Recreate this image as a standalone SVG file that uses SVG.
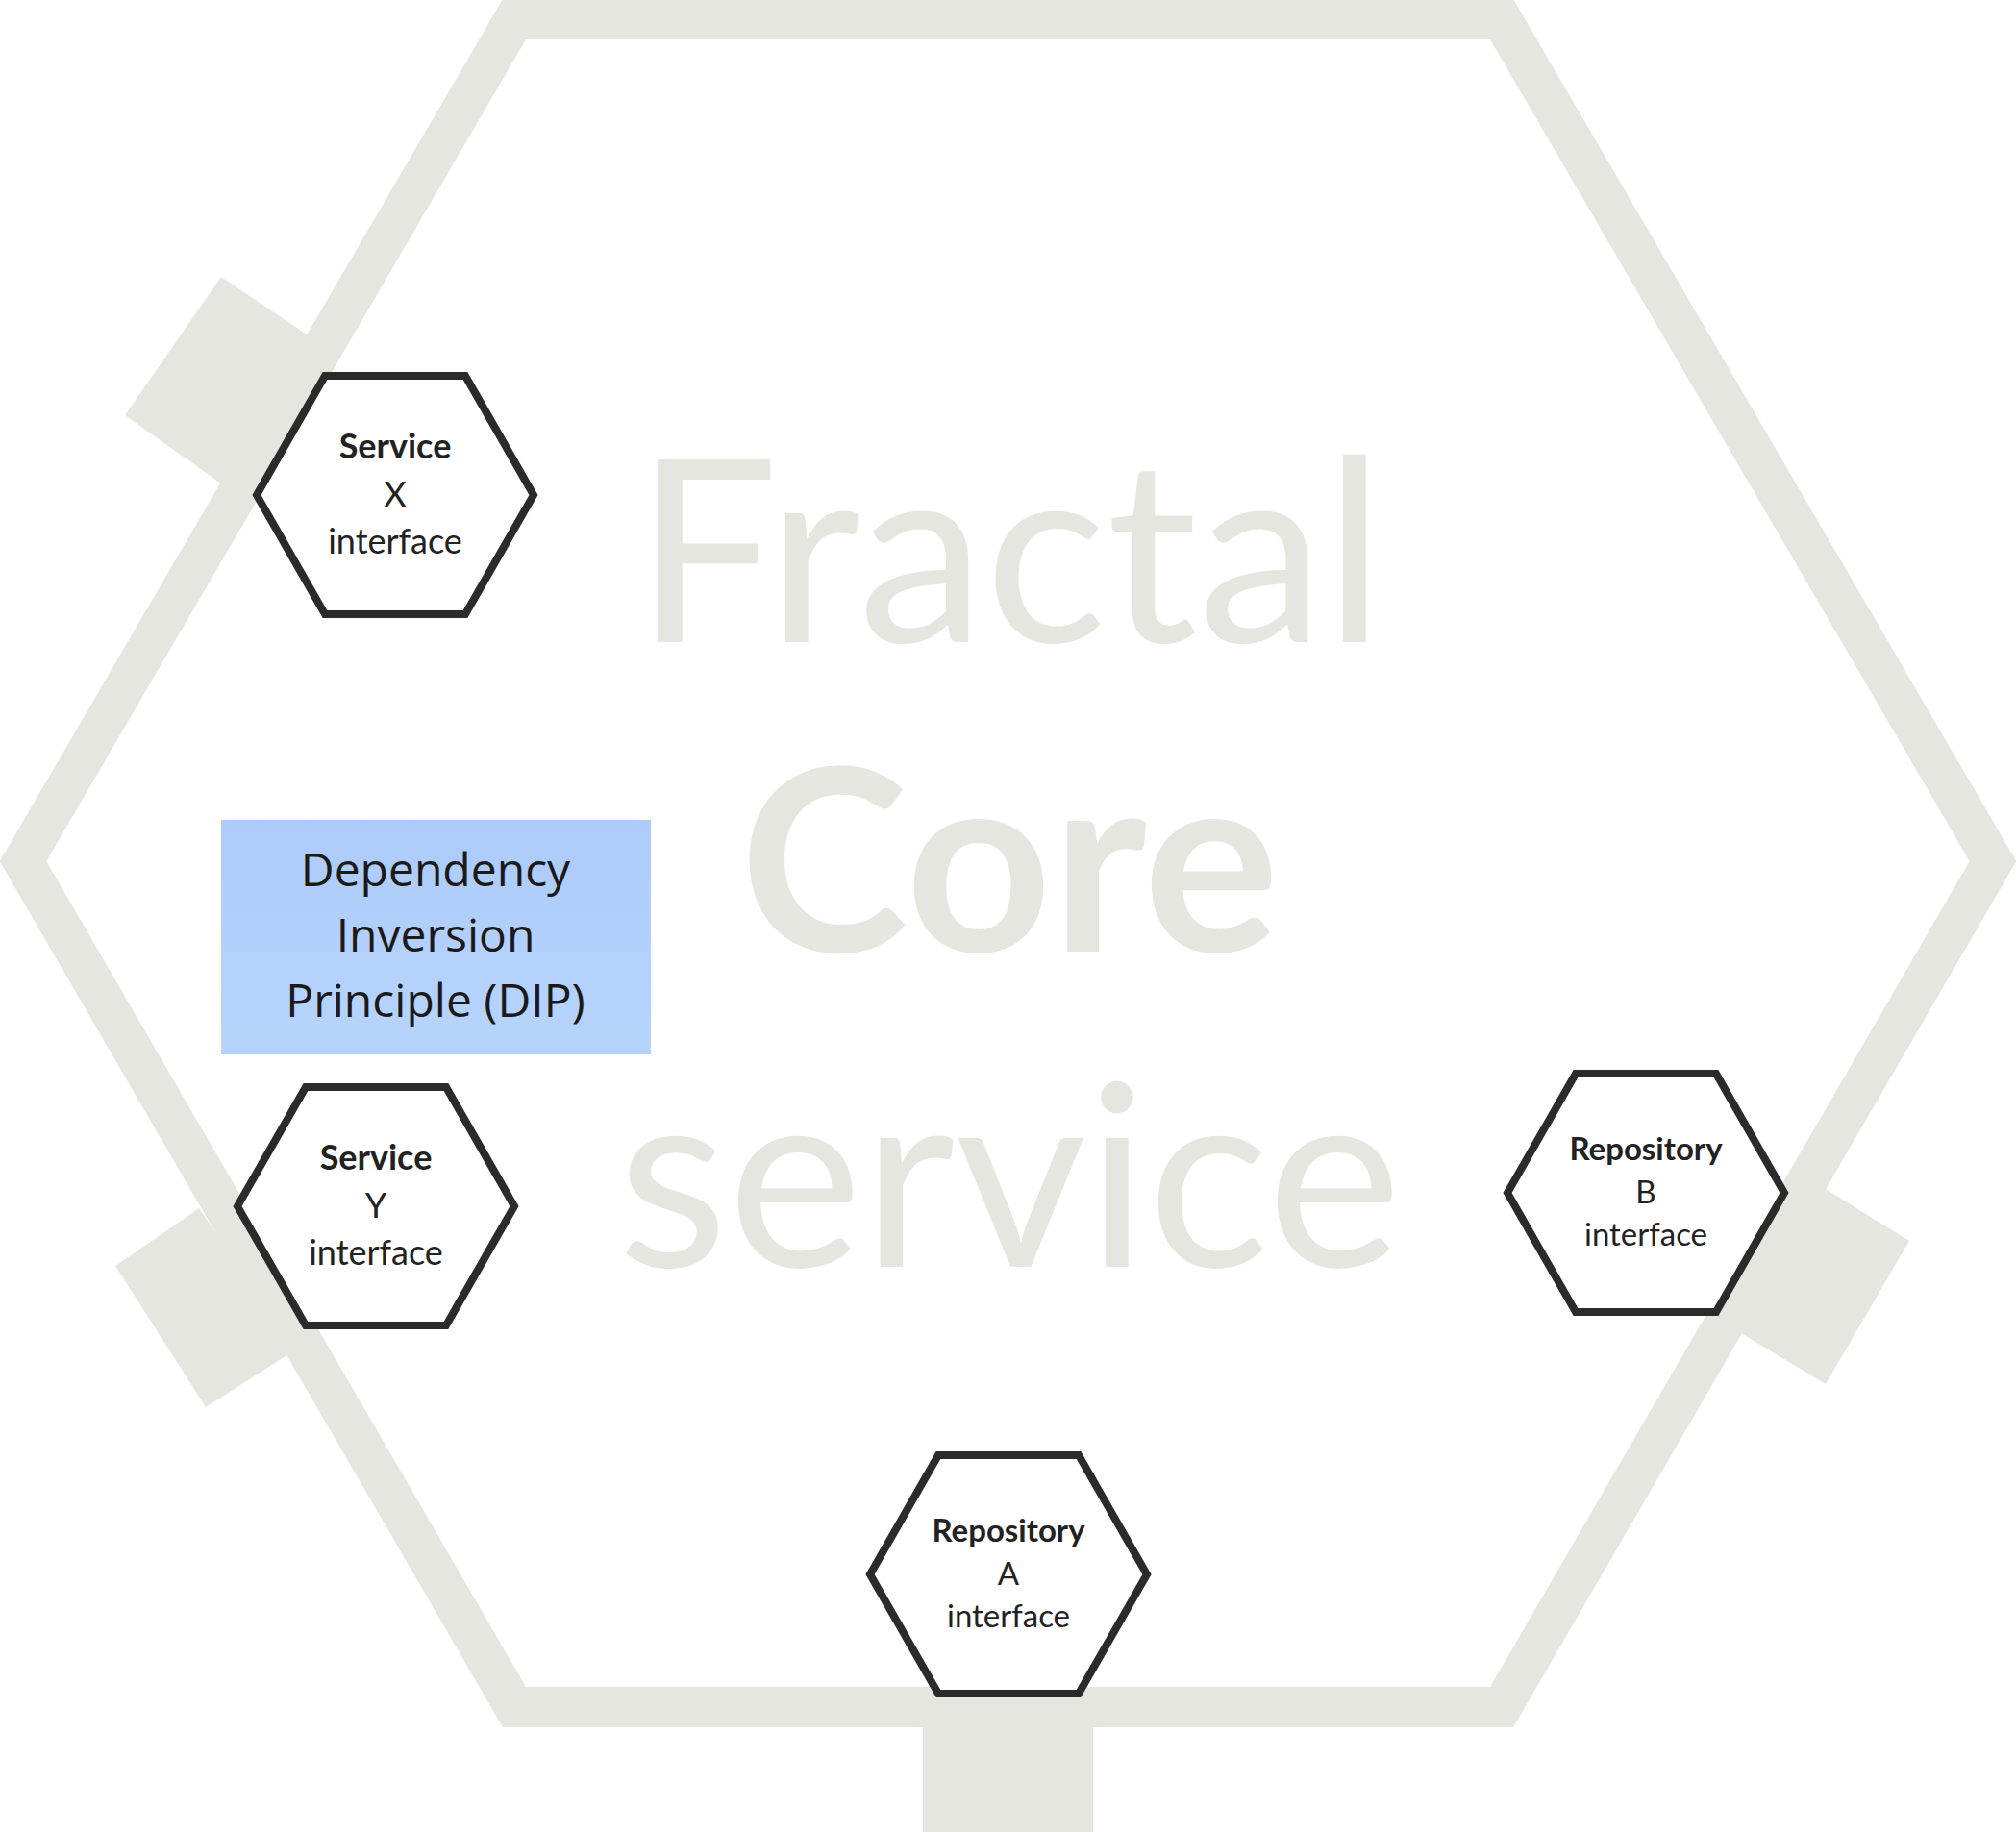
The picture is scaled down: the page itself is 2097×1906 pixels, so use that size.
<svg xmlns="http://www.w3.org/2000/svg" width="2097" height="1906" viewBox="0 0 2097 1906">
<style>
.port{fill:#e6e6e1}
.hex{fill:#fff;stroke:#2b2b2b;stroke-width:8;stroke-linejoin:miter}
.t{font-family:Lato,"Open Sans",sans-serif;fill:#222;text-anchor:middle}
.b{font-weight:bold}
.big{font-family:Lato,"Open Sans",sans-serif;fill:#e6e6e1;text-anchor:middle;font-size:265px}
</style>
<defs>
<linearGradient id="g" x1="0" y1="0" x2="0" y2="1"><stop offset="0" stop-color="#adcbfa"/><stop offset="1" stop-color="#b6d4fb"/></linearGradient>
</defs>
<rect width="2097" height="1906" fill="#fff"/>
<g id="core">
<polygon class="port" points="230,288 334,358 234,506 130,432"/>
<polygon class="port" points="207,1257 308,1404 214,1464 120,1317"/>
<polygon class="port" points="1899,1237 1986,1291 1899,1440 1806,1384"/>
<rect class="port" x="960" y="1790" width="177" height="116"/>
<polygon points="535,20 1562,20 2073,896 1562,1776 535,1776 24,896" fill="none" stroke="#e6e6e1" stroke-width="42"/>
<text class="big" x="1050" y="668">Fractal</text>
<text class="big b" x="1050" y="990">Core</text>
<text class="big" x="1050" y="1318">service</text>
</g>
<g id="dip">
<rect x="230" y="853" width="447" height="244" fill="url(#g)"/>
<g font-family="'Open Sans',sans-serif" font-size="48" fill="#1a1a1a" text-anchor="middle">
<text x="453" y="922">Dependency</text>
<text x="453" y="990">Inversion</text>
<text x="453" y="1058">Principle (DIP)</text>
</g>
</g>
<g id="serviceX" transform="translate(411,515)">
<polygon class="hex" points="-144,0 -73,-124 73,-124 144,0 73,124 -73,124"/>
<text class="t b" y="-38" font-size="36">Service</text>
<text class="t" y="12" font-size="36">X</text>
<text class="t" y="61" font-size="36">interface</text>
</g>
<g id="serviceY" transform="translate(391,1255)">
<polygon class="hex" points="-144,0 -73,-124 73,-124 144,0 73,124 -73,124"/>
<text class="t b" y="-38" font-size="36">Service</text>
<text class="t" y="12" font-size="36">Y</text>
<text class="t" y="61" font-size="36">interface</text>
</g>
<g id="repoB" transform="translate(1712,1241)">
<polygon class="hex" points="-144,0 -73,-124 73,-124 144,0 73,124 -73,124"/>
<text class="t b" y="-34" font-size="33">Repository</text>
<text class="t" y="11" font-size="33">B</text>
<text class="t" y="55" font-size="33">interface</text>
</g>
<g id="repoA" transform="translate(1049,1638)">
<polygon class="hex" points="-144,0 -73,-124 73,-124 144,0 73,124 -73,124"/>
<text class="t b" y="-34" font-size="33">Repository</text>
<text class="t" y="11" font-size="33">A</text>
<text class="t" y="55" font-size="33">interface</text>
</g>
<g id="connectors"/>
</svg>
